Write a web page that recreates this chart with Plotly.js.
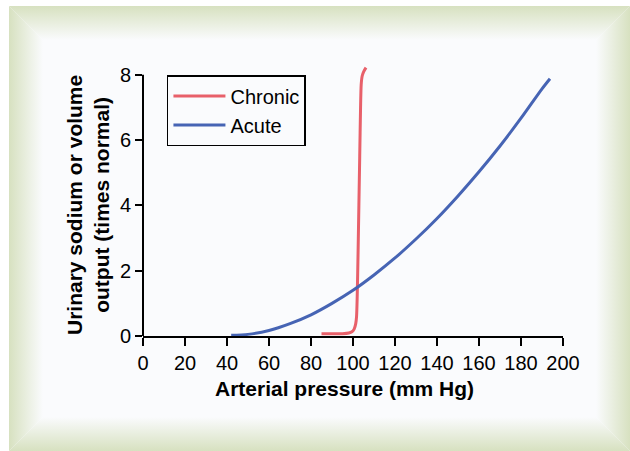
<!DOCTYPE html>
<html>
<head>
<meta charset="utf-8">
<script src="https://cdn.plot.ly/plotly-3.0.1.min.js"></script>
<style>
html,body{margin:0;padding:0;background:#ffffff;width:630px;height:451px;overflow:hidden;}
#frame{position:absolute;left:9px;top:6px;width:621px;height:445px;background:#fafbfd;}
.edge{position:absolute;}
#et{left:0;top:0;width:100%;height:34px;background:linear-gradient(to bottom,#d7e1c0,#fafbfd);clip-path:polygon(0 0,100% 0,calc(100% - 34px) 100%,34px 100%);}
#eb{left:0;bottom:0;width:100%;height:34px;background:linear-gradient(to top,#d7e1c0,#fafbfd);clip-path:polygon(34px 0,calc(100% - 34px) 0,100% 100%,0 100%);}
#el{left:0;top:0;width:34px;height:100%;background:linear-gradient(to right,#d7e1c0,#fafbfd);clip-path:polygon(0 0,100% 34px,100% calc(100% - 34px),0 100%);}
#er{right:0;top:0;width:34px;height:100%;background:linear-gradient(to left,#d7e1c0,#fafbfd);clip-path:polygon(0 34px,100% 0,100% 100%,0 calc(100% - 34px));}
#chart{position:absolute;left:0;top:0;width:630px;height:451px;}
</style>
</head>
<body>
<div id="frame"><div class="edge" id="et"></div><div class="edge" id="eb"></div><div class="edge" id="el"></div><div class="edge" id="er"></div></div>
<div id="chart"></div>
<script>
// Chronic curve (arterial pressure mm Hg, output times normal)
const chronicX = [85, 90, 95, 98, 99.5, 100.6, 101.3, 101.7, 102.0, 102.4, 102.8, 103.2, 103.6, 103.9, 104.4, 105.1, 106.2];
const chronicY = [0.07, 0.07, 0.07, 0.09, 0.13, 0.22, 0.38, 0.6, 1.2, 2.5, 4.0, 5.5, 7.0, 7.7, 7.97, 8.1, 8.22];
// Acute curve
const acuteX = [42, 50, 60, 70, 80, 90, 100, 110, 120, 130, 140, 150, 160, 170, 180, 190, 193.8];
const acuteY = [0.02, 0.05, 0.17, 0.38, 0.65, 1.0, 1.4, 1.87, 2.39, 2.97, 3.6, 4.29, 5.03, 5.82, 6.67, 7.57, 7.88];

const xTicks = [0, 20, 40, 60, 80, 100, 120, 140, 160, 180, 200];
const yTicks = [0, 2, 4, 6, 8];

const FONT = 'Liberation Sans, Arial, sans-serif';

const traces = [
  {x: chronicX, y: chronicY, name: 'Chronic', type: 'scatter', mode: 'lines',
   line: {color: '#e8606a', width: 3, shape: 'spline', smoothing: 0.6}},
  {x: acuteX, y: acuteY, name: 'Acute', type: 'scatter', mode: 'lines',
   line: {color: '#4664b4', width: 3, shape: 'spline', smoothing: 0.8}}
];

const layout = {
  width: 630, height: 451,
  margin: {l: 143, r: 67, t: 65, b: 115},
  paper_bgcolor: 'rgba(0,0,0,0)',
  plot_bgcolor: 'rgba(0,0,0,0)',
  font: {family: FONT, size: 20, color: '#000'},
  showlegend: true,
  legend: {x: 0.057, y: 0.963, xanchor: 'left', yanchor: 'top',
           bordercolor: '#000', borderwidth: 1.5, bgcolor: 'rgba(0,0,0,0)',
           itemwidth: 52,
           font: {family: FONT, size: 20, color: '#000'}, tracegroupgap: 0},
  xaxis: {range: [0, 200], tickvals: xTicks, ticktext: xTicks.map(String),
          showgrid: false, zeroline: false, showline: true, linecolor: '#000', linewidth: 2,
          ticks: 'outside', ticklen: 8, tickwidth: 2, tickcolor: '#000',
          tickfont: {family: FONT, size: 20, color: '#000'}, fixedrange: true},
  yaxis: {range: [0, 8.3], tickvals: yTicks, ticktext: yTicks.map(String),
          showgrid: false, zeroline: false, showline: false,
          ticks: 'outside', ticklen: 7, tickwidth: 2, tickcolor: '#000',
          tickfont: {family: FONT, size: 20, color: '#000'}, fixedrange: true},
  shapes: [
    {type: 'line', xref: 'paper', yref: 'y', x0: 0, x1: 0, y0: 0, y1: 8,
     line: {color: '#000', width: 2}}
  ],
  annotations: [
    {text: '<b>Arterial pressure (mm Hg)</b>', xref: 'paper', yref: 'paper',
     x: (344 - 143) / 420, y: (336 - 388) / 271, xanchor: 'center', yanchor: 'middle',
     showarrow: false, font: {family: FONT, size: 21, color: '#000'}},
    {text: '<b>Urinary sodium or volume<br>output (times normal)</b>', xref: 'paper', yref: 'paper',
     x: (88 - 143) / 420, y: (336 - 205) / 271, xanchor: 'center', yanchor: 'middle',
     textangle: -90, showarrow: false, font: {family: FONT, size: 21, color: '#000'}}
  ]
};

Plotly.newPlot('chart', traces, layout, {staticPlot: true, displayModeBar: false});
</script>
</body>
</html>
